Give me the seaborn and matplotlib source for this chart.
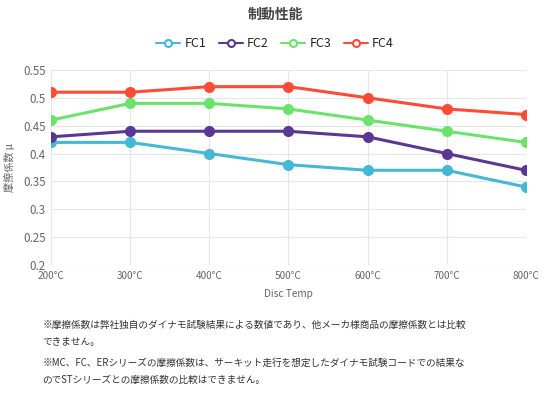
import pandas as pd
import matplotlib.pyplot as plt
from matplotlib.lines import Line2D
import seaborn as sns

# Data
temps = ["200°C", "300°C", "400°C", "500°C", "600°C", "700°C", "800°C"]
fc1 = [0.42, 0.42, 0.40, 0.38, 0.37, 0.37, 0.34]
fc2 = [0.43, 0.44, 0.44, 0.44, 0.43, 0.40, 0.37]
fc3 = [0.46, 0.49, 0.49, 0.48, 0.46, 0.44, 0.42]
fc4 = [0.51, 0.51, 0.52, 0.52, 0.50, 0.48, 0.47]
series_names = ["FC1", "FC2", "FC3", "FC4"]
colors = ["#45b8d6", "#5b3794", "#6be36b", "#ff4b36"]
y_ticks = [0.2, 0.25, 0.3, 0.35, 0.4, 0.45, 0.5, 0.55]

rows = []
for name, vals in zip(series_names, [fc1, fc2, fc3, fc4]):
    for i, v in enumerate(vals):
        rows.append({"temp": i, "mu": v, "series": name})
df = pd.DataFrame(rows)

sns.set_style("white")
plt.rcParams["font.family"] = ["Noto Sans CJK JP", "DejaVu Sans"]

fig = plt.figure(figsize=(5.5, 3.95), dpi=100)
ax = fig.add_axes([0.093, 0.329, 0.863, 0.494])

sns.lineplot(data=df, x="temp", y="mu", hue="series", palette=colors,
             marker="o", markersize=8, markeredgewidth=0, linewidth=2.2,
             ax=ax, legend=False)

ax.set_xlim(0, len(temps) - 1)
ax.set_ylim(0.2, 0.55)
ax.set_xticks(range(len(temps)))
ax.set_xticklabels(temps)
ax.set_yticks(y_ticks)
ax.set_yticklabels([f"{t:g}" for t in y_ticks])
ax.grid(True, color="#e6e6e6", linewidth=0.8)
ax.set_axisbelow(True)
for s in ax.spines.values():
    s.set_visible(False)
ax.tick_params(axis="both", length=0, labelsize=7.2, colors="#666666", pad=4)
for lab in ax.get_yticklabels():
    lab.set_fontsize(8.3)
ax.set_xlabel("Disc Temp", fontsize=7.3, color="#666666", labelpad=6)
ax.set_ylabel("摩擦係数 μ", fontsize=7.3, color="#666666", labelpad=6)

fig.text(0.5, 0.962, "制動性能", ha="center", va="center",
         fontsize=10, fontweight="bold", color="#444444")

handles = [Line2D([0], [0], color=c, linewidth=1.5, marker="o", markersize=5,
                  markerfacecolor="white", markeredgewidth=1.5)
           for c in colors]
fig.legend(handles, series_names, loc="center", bbox_to_anchor=(0.5, 0.889),
           ncol=4, frameon=False, fontsize=9, handlelength=1.9,
           columnspacing=1.0, handletextpad=0.35)

notes = [
    (0.177, "※摩擦係数は弊社独自のダイナモ試験結果による数値であり、他メーカ様商品の摩擦係数とは比較"),
    (0.134, "できません。"),
    (0.081, "※MC、FC、ERシリーズの摩擦係数は、サーキット走行を想定したダイナモ試験コードでの結果な"),
    (0.038, "のでSTシリーズとの摩擦係数の比較はできません。"),
]
for yy, txt in notes:
    fig.text(0.077, yy, txt, ha="left", va="center", fontsize=6.95, color="#333333")

fig.savefig("out.png", dpi=100)
